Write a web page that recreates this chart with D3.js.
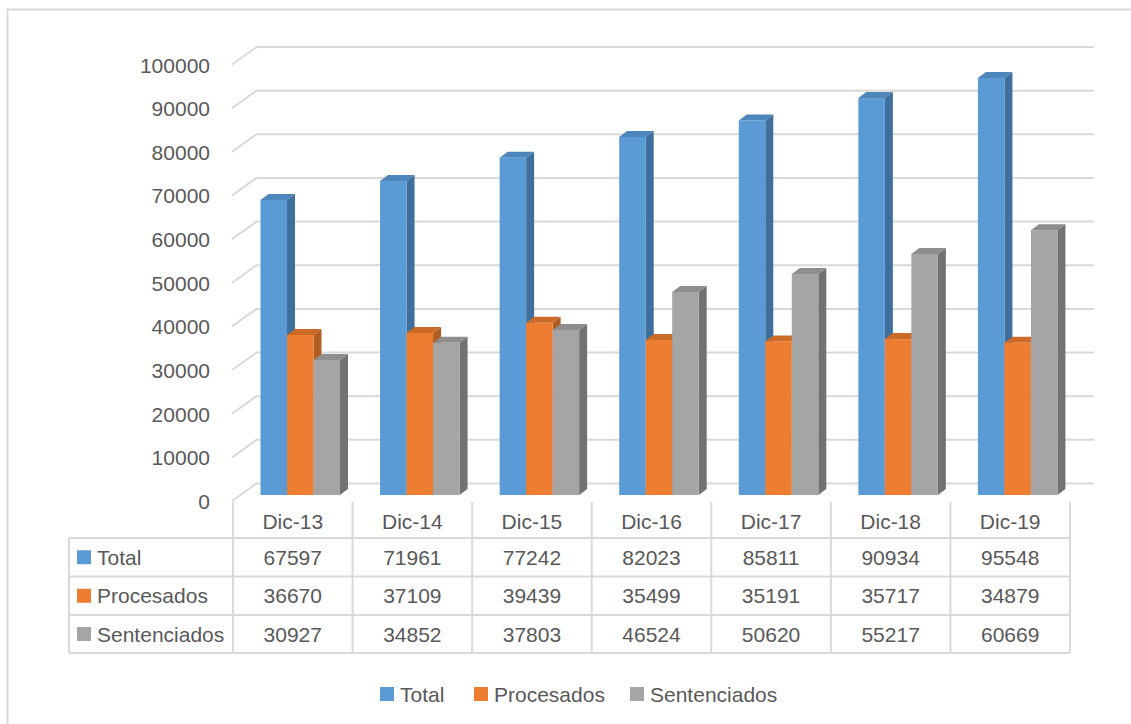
<!DOCTYPE html>
<html>
<head>
<meta charset="utf-8">
<script src="https://cdn.jsdelivr.net/npm/d3@7"></script>
<style>
  html, body { margin: 0; padding: 0; background: #fff; }
  svg { display: block; }
  text { font-family: "Liberation Sans", Arial, sans-serif; fill: #595959; }
</style>
</head>
<body>
<svg id="chart" width="1131" height="724"></svg>
<script>
// Data
const categories = ["Dic-13", "Dic-14", "Dic-15", "Dic-16", "Dic-17", "Dic-18", "Dic-19"];
const seriesNames = ["Total", "Procesados", "Sentenciados"];
const total = [67597, 71961, 77242, 82023, 85811, 90934, 95548];
const procesados = [36670, 37109, 39439, 35499, 35191, 35717, 34879];
const sentenciados = [30927, 34852, 37803, 46524, 50620, 55217, 60669];
const yTicks = [0, 10000, 20000, 30000, 40000, 50000, 60000, 70000, 80000, 90000, 100000];

const seriesValues = [total, procesados, sentenciados];
const colors = {
  front: ["#5b9bd5", "#ed7d31", "#a5a5a5"],
  side:  ["#3f6f9c", "#b05c22", "#727272"],
  top:   ["#4d86bb", "#cc6a28", "#8e8e8e"]
};

const svg = d3.select("#chart");
const fontSize = 21;
const lineColor = "#d9d9d9";

// Outer frame
svg.append("rect")
  .attr("x", 7.5).attr("y", 9.5)
  .attr("width", 1140).attr("height", 740)
  .attr("fill", "none").attr("stroke", lineColor).attr("stroke-width", 2);

// Geometry of the 3D plot
const tableLeft = 233, tableRight = 1070;
const depthDx = 8, depthDy = -6;      // bar depth
const wallDx = 24.5, wallDy = -17.5;  // floor/wall depth from front edge to back wall
const frontOff = 6;                   // front edge below bar plane

const x = d3.scaleBand().domain(categories).range([tableLeft, tableRight]);
const xs = d3.scaleBand().domain(seriesNames).range([27.5, 107]);
const y = d3.scaleLinear().domain([0, 100000]).range([495, 58.5]);

// Back wall gridlines with diagonal side-wall segments
const grid = svg.append("g");
yTicks.forEach(t => {
  const yf = y(t) + frontOff;
  const yb = yf + wallDy;
  grid.append("path")
    .attr("d", `M${tableLeft - 1},${yf} L${tableLeft - 1 + wallDx},${yb} L1094,${yb}`)
    .attr("fill", "none").attr("stroke", lineColor).attr("stroke-width", 2);
});

// Y axis labels
svg.append("g").selectAll("text").data(yTicks).join("text")
  .attr("x", 210).attr("y", d => y(d) + frontOff + 0.5)
  .attr("text-anchor", "end").attr("dominant-baseline", "central")
  .attr("font-size", fontSize)
  .text(d => d);

// Bars
const bars = svg.append("g");
categories.forEach((c, i) => {
  seriesNames.forEach((s, k) => {
    const v = seriesValues[k][i];
    const x0 = x(c) + xs(s), w = xs.bandwidth();
    const yt = y(v), yb = y(0);
    const g = bars.append("g");
    g.append("path")
      .attr("d", `M${x0 + w},${yt} L${x0 + w + depthDx},${yt + depthDy} L${x0 + w + depthDx},${yb + depthDy} L${x0 + w},${yb} Z`)
      .attr("fill", colors.side[k]);
    g.append("path")
      .attr("d", `M${x0},${yt} L${x0 + depthDx},${yt + depthDy} L${x0 + w + depthDx},${yt + depthDy} L${x0 + w},${yt} Z`)
      .attr("fill", colors.top[k]);
    g.append("rect")
      .attr("x", x0).attr("y", yt).attr("width", w).attr("height", yb - yt)
      .attr("fill", colors.front[k]);
  });
});

// Data table
const rowLines = [538, 576.5, 615, 653];
const headerTop = 502;
const labelLeft = 69;
const table = svg.append("g").attr("stroke", lineColor).attr("stroke-width", 2);
rowLines.forEach(ry => {
  table.append("line").attr("x1", labelLeft).attr("x2", tableRight).attr("y1", ry).attr("y2", ry);
});
table.append("line").attr("x1", labelLeft).attr("x2", labelLeft).attr("y1", rowLines[0]).attr("y2", rowLines[3]);
categories.forEach(c => {
  table.append("line").attr("x1", x(c)).attr("x2", x(c)).attr("y1", headerTop).attr("y2", rowLines[3]);
});
table.append("line").attr("x1", tableRight).attr("x2", tableRight).attr("y1", headerTop).attr("y2", rowLines[3]);

// Header row
svg.append("g").selectAll("text").data(categories).join("text")
  .attr("x", d => x(d) + x.bandwidth() / 2).attr("y", 521)
  .attr("text-anchor", "middle").attr("dominant-baseline", "central")
  .attr("font-size", fontSize).text(d => d);

// Value rows
seriesNames.forEach((s, k) => {
  const cy = (rowLines[k] + rowLines[k + 1]) / 2;
  const row = svg.append("g");
  row.append("rect").attr("x", 77).attr("y", cy - 7).attr("width", 14).attr("height", 14)
    .attr("fill", colors.front[k]);
  row.append("text").attr("x", 97).attr("y", cy)
    .attr("dominant-baseline", "central").attr("font-size", fontSize).text(s);
  row.selectAll("text.v").data(seriesValues[k]).join("text")
    .attr("class", "v")
    .attr("x", (d, i) => x(categories[i]) + x.bandwidth() / 2).attr("y", cy)
    .attr("text-anchor", "middle").attr("dominant-baseline", "central")
    .attr("font-size", fontSize).text(d => d);
});

// Legend
const legendX = [380, 474, 630];
const legend = svg.append("g");
seriesNames.forEach((s, k) => {
  legend.append("rect").attr("x", legendX[k]).attr("y", 687).attr("width", 14).attr("height", 14)
    .attr("fill", colors.front[k]);
  legend.append("text").attr("x", legendX[k] + 20).attr("y", 694)
    .attr("dominant-baseline", "central").attr("font-size", fontSize).text(s);
});
</script>
</body>
</html>
